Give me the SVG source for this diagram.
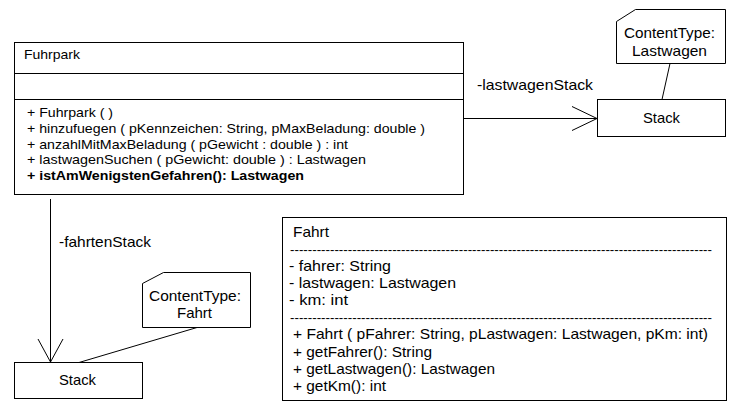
<svg xmlns="http://www.w3.org/2000/svg" width="733" height="410" viewBox="0 0 733 410">
<style>
.box{fill:#fff;stroke:#000;stroke-width:1}
.ln{stroke:#000;stroke-width:1;fill:none}
text{font-family:"Liberation Sans",Arial,sans-serif;fill:#000}
.s{font-size:13.5px}
.m{font-size:14.5px}
.c{text-anchor:middle}
.b{font-weight:bold}
</style>
<rect width="733" height="410" fill="#fff"/>
<g id="fuhrpark">
<rect class="box" x="14.5" y="42.5" width="449" height="152"/>
<line class="ln" x1="14.5" y1="73.5" x2="463.5" y2="73.5"/>
<line class="ln" x1="14.5" y1="99.5" x2="463.5" y2="99.5"/>
<text class="s" x="24" y="59" textLength="56" lengthAdjust="spacingAndGlyphs">Fuhrpark</text>
<text class="s" x="27" y="117" textLength="86" lengthAdjust="spacingAndGlyphs">+ Fuhrpark ( )</text>
<text class="s" x="27" y="133" textLength="398" lengthAdjust="spacingAndGlyphs">+ hinzufuegen ( pKennzeichen: String, pMaxBeladung: double )</text>
<text class="s" x="27" y="148.5" textLength="321" lengthAdjust="spacingAndGlyphs">+ anzahlMitMaxBeladung ( pGewicht : double ) : int</text>
<text class="s" x="27" y="164" textLength="339" lengthAdjust="spacingAndGlyphs">+ lastwagenSuchen ( pGewicht: double ) :  Lastwagen</text>
<text class="s b" x="27" y="180" textLength="277" lengthAdjust="spacingAndGlyphs">+ istAmWenigstenGefahren(): Lastwagen</text>
</g>
<g id="stack1">
<rect class="box" x="597.5" y="99.5" width="128" height="37"/>
<text class="m c" x="661.5" y="123" textLength="37" lengthAdjust="spacingAndGlyphs">Stack</text>
</g>
<g id="note1">
<polygon class="box" points="616.5,21.5 635.5,9.5 725.5,9.5 725.5,63.5 616.5,63.5"/>
<text class="m c" x="669.5" y="38" textLength="91" lengthAdjust="spacingAndGlyphs">ContentType:</text>
<text class="m c" x="669.5" y="56" textLength="75" lengthAdjust="spacingAndGlyphs">Lastwagen</text>
</g>
<g id="stack2">
<rect class="box" x="14.5" y="362.5" width="128" height="36"/>
<text class="m c" x="77.5" y="385" textLength="37" lengthAdjust="spacingAndGlyphs">Stack</text>
</g>
<g id="note2">
<polygon class="box" points="142.5,283.5 163.5,272.5 250.5,272.5 250.5,327.5 142.5,327.5"/>
<text class="m c" x="195" y="301" textLength="92" lengthAdjust="spacingAndGlyphs">ContentType:</text>
<text class="m c" x="194.5" y="318" textLength="35" lengthAdjust="spacingAndGlyphs">Fahrt</text>
</g>
<g id="fahrt">
<rect class="box" x="282.5" y="217.5" width="444" height="183"/>
<text class="m" x="293" y="237" textLength="36" lengthAdjust="spacingAndGlyphs">Fahrt</text>
<text class="s" x="290" y="254" textLength="422" lengthAdjust="spacingAndGlyphs">-----------------------------------------------------------------------------------------------</text>
<text class="m" x="289" y="271" textLength="102" lengthAdjust="spacingAndGlyphs">- fahrer: String</text>
<text class="m" x="289" y="288" textLength="167" lengthAdjust="spacingAndGlyphs">- lastwagen: Lastwagen</text>
<text class="m" x="289" y="305" textLength="59" lengthAdjust="spacingAndGlyphs">- km: int</text>
<text class="s" x="290" y="322" textLength="422" lengthAdjust="spacingAndGlyphs">-----------------------------------------------------------------------------------------------</text>
<text class="m" x="293" y="339" textLength="415" lengthAdjust="spacingAndGlyphs">+ Fahrt ( pFahrer: String, pLastwagen: Lastwagen, pKm: int)</text>
<text class="m" x="293" y="356.5" textLength="139" lengthAdjust="spacingAndGlyphs">+ getFahrer(): String</text>
<text class="m" x="293" y="373.5" textLength="202" lengthAdjust="spacingAndGlyphs">+ getLastwagen(): Lastwagen</text>
<text class="m" x="293" y="390.5" textLength="93" lengthAdjust="spacingAndGlyphs">+ getKm(): int</text>
</g>
<g id="connectors">
<line class="ln" x1="463.5" y1="118.5" x2="597.5" y2="118.5"/>
<polyline class="ln" points="572,106.5 597,118.5 572,130.5"/>
<text class="m" x="477" y="90" textLength="116" lengthAdjust="spacingAndGlyphs">-lastwagenStack</text>
<line class="ln" x1="50.5" y1="199" x2="50.5" y2="362"/>
<polyline class="ln" points="38,339 50.5,362 63,339"/>
<text class="m" x="59" y="247" textLength="92" lengthAdjust="spacingAndGlyphs">-fahrtenStack</text>
<line class="ln" x1="670" y1="63.5" x2="662" y2="99.5"/>
<line class="ln" x1="197" y1="327.5" x2="79" y2="362.5"/>
</g>
</svg>
